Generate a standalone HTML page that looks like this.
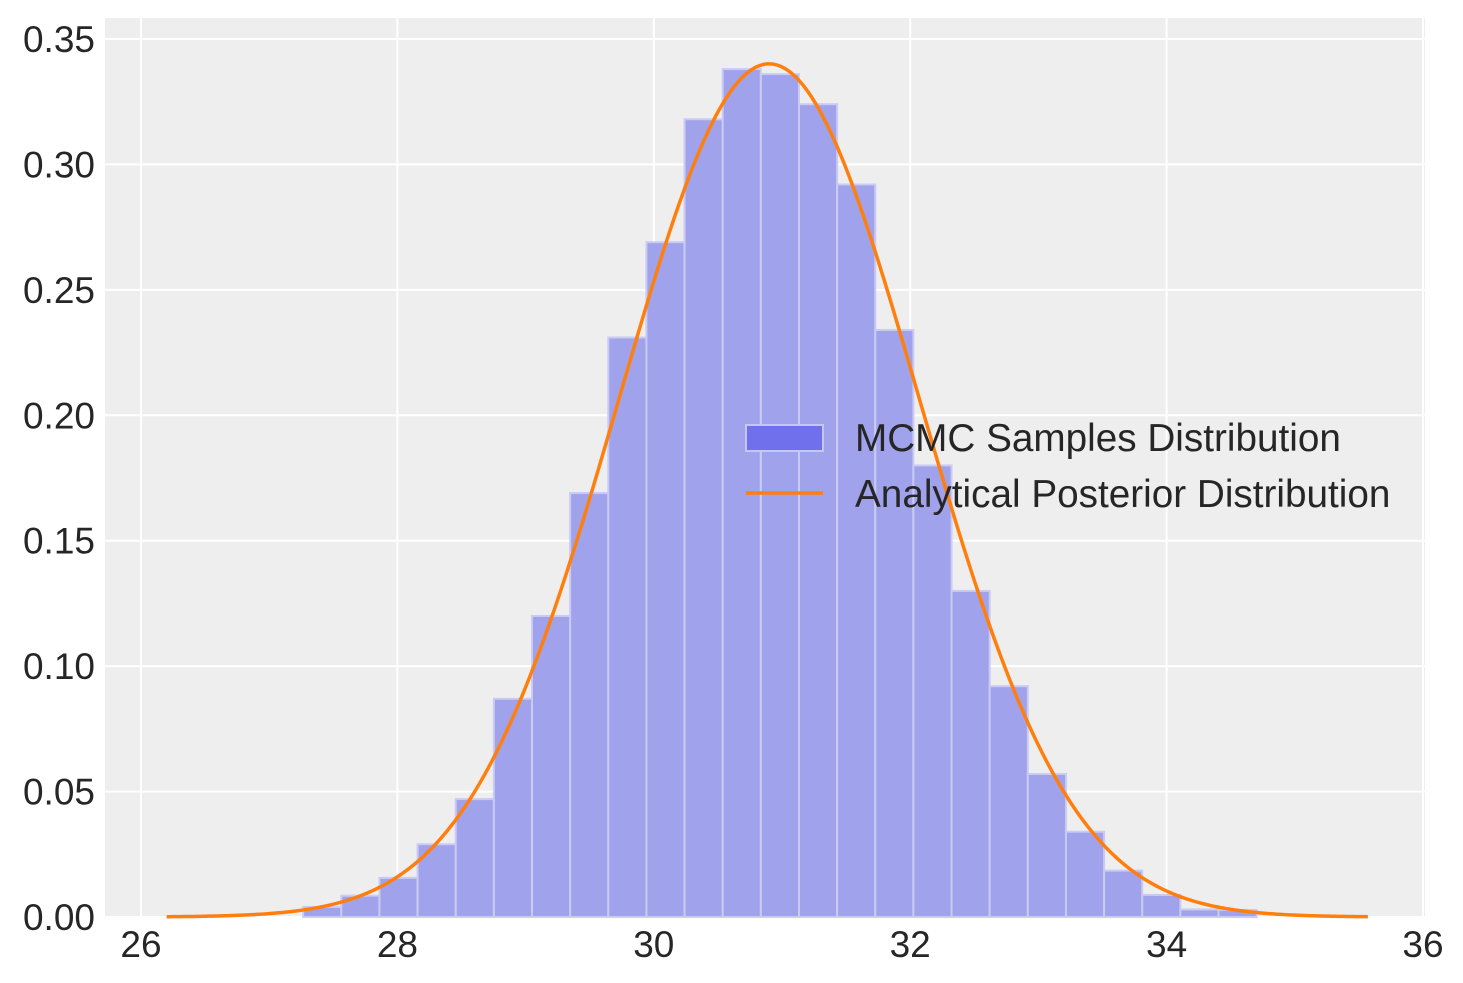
<!DOCTYPE html>
<html><head><meta charset="utf-8"><style>
body{margin:0;background:#fff;}
svg{display:block;font-family:"Liberation Sans",Arial,sans-serif;}
</style></head><body>
<svg id="chart" width="1463" height="983" viewBox="0 0 1463 983">
<rect x="105" y="18" width="1320" height="899" fill="#eeeeee"/>
<g id="grid"></g><g id="bars"></g><g id="curve"></g><g id="ticks"></g>
<g>
<rect x="746" y="425" width="77" height="26" fill="#7070ec" stroke="#c4c6f4" stroke-width="2"/>
<text x="855" y="451" font-size="38.7" fill="#262626">MCMC Samples Distribution</text>
<line x1="746" y1="493" x2="823" y2="493" stroke="#ff7f0e" stroke-width="3.5"/>
<text x="855" y="507" font-size="38.7" fill="#262626">Analytical Posterior Distribution</text>
</g>
</svg>
<script>
const binStart = 27.265;
const binWidth = 0.2975;
const binHeights = [0.004,0.0085,0.0156,0.029,0.047,0.087,0.120,0.169,0.231,0.269,0.318,0.338,0.336,0.324,0.292,0.234,0.180,0.130,0.092,0.057,0.034,0.0185,0.0088,0.003,0.0028];
const curveMean = 30.9;
const curveSigma = 1.173;
const curveRange = [26.2, 35.57];
const xTicks = [26,28,30,32,34,36];
const yTicks = [0,0.05,0.10,0.15,0.20,0.25,0.30,0.35];
const yTickLabels = ["0.00","0.05","0.10","0.15","0.20","0.25","0.30","0.35"];

const NS="http://www.w3.org/2000/svg";
const X=v=>141+(v-26)*128.2;
const Y=v=>917-v*2508.6;
function mk(tag,attrs,parent){const e=document.createElementNS(NS,tag);for(const k in attrs)e.setAttribute(k,attrs[k]);parent.appendChild(e);return e;}
const grid=document.getElementById('grid'),ticks=document.getElementById('ticks'),bars=document.getElementById('bars'),curve=document.getElementById('curve');
xTicks.forEach(t=>{
  const l=mk('line',{x1:X(t),x2:X(t),y1:18,y2:917,stroke:'#fff','stroke-width':2},grid);
  
  
  const tx=mk('text',{x:X(t),y:957,'font-size':37,'text-anchor':'middle',fill:'#262626'},ticks);
  tx.textContent=t;
  
  
});
yTicks.forEach((t,i)=>{
  const l=mk('line',{x1:105,x2:1425,y1:Y(t),y2:Y(t),stroke:'#fff','stroke-width':2},grid);
  
  
  const tx=mk('text',{x:95,y:Y(t)+13,'font-size':37,'text-anchor':'end',fill:'#262626'},ticks);
  tx.textContent=yTickLabels[i];
  
  
});
binHeights.forEach((h,i)=>{
  const x0=X(binStart+i*binWidth),x1=X(binStart+(i+1)*binWidth);
  const r=mk('rect',{x:x0,y:Y(h),width:x1-x0,height:917-Y(h),fill:'#a0a2ec',stroke:'#c9cbf4','stroke-width':2},bars);
  
  
});
let d='';const N=400;
for(let i=0;i<=N;i++){const x=curveRange[0]+(curveRange[1]-curveRange[0])*i/N;
  const y=Math.exp(-0.5*((x-curveMean)/curveSigma)**2)/(curveSigma*Math.sqrt(2*Math.PI));
  d+=(i?'L':'M')+X(x).toFixed(2)+','+Y(y).toFixed(2);}
const p=mk('path',{d:d,fill:'none',stroke:'#ff7f0e','stroke-width':3.5},curve);


</script>
</body></html>
